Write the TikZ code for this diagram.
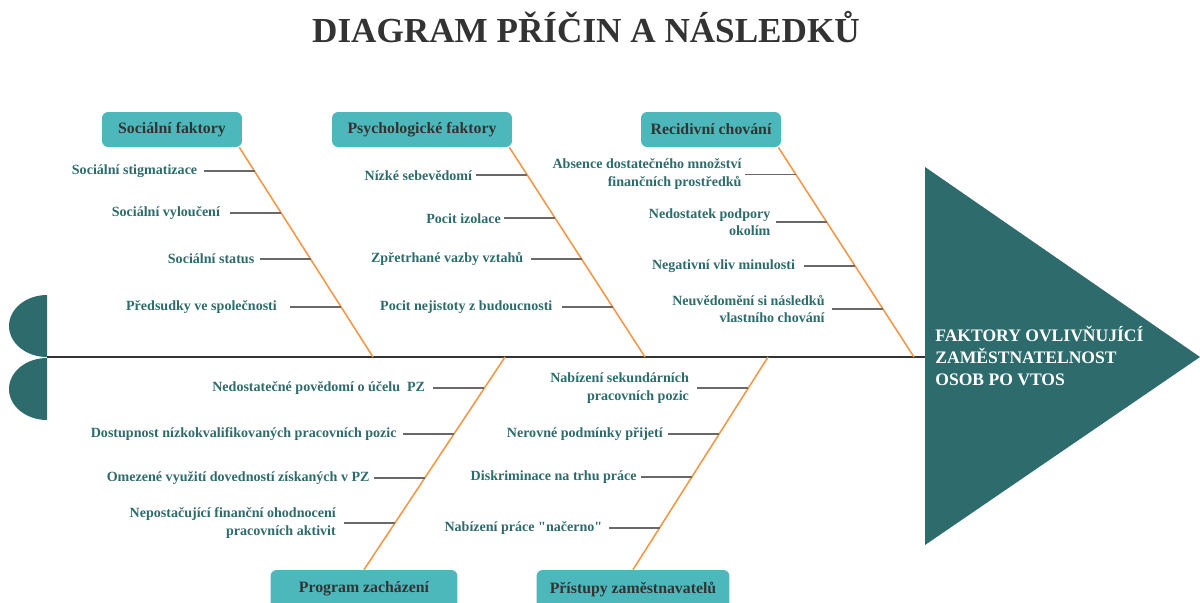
\documentclass[tikz,border=0pt]{standalone}
\usepackage{fontspec}
\setmainfont{Liberation Serif}
\usepackage{tikz}
\usetikzlibrary{calc, positioning}

\definecolor{headteal}{RGB}{46,107,108}
\definecolor{boxteal}{RGB}{77,184,188}
\definecolor{boneorange}{RGB}{243,152,72}
\definecolor{darkgray}{RGB}{51,51,51}
\definecolor{twiggray}{RGB}{105,105,105}

\begin{document}
\begin{tikzpicture}[x=0.02cm, y=-0.02cm,
    category/.style={fill=boxteal, rounded corners=3.5pt, minimum height=0.7cm, inner sep=0pt, text=darkgray, font=\fontsize{9}{11}\selectfont\bfseries},
    cause/.style={text=headteal, align=right, inner sep=0pt, font=\fontsize{8}{10.2}\selectfont\bfseries},
    bone/.style={draw=boneorange, line width=0.9pt},
    twig/.style={draw=twiggray, line width=1pt},
    spine/.style={draw=darkgray, line width=1.6pt}]
    \useasboundingbox (0,0) rectangle (1200,602);
    \clip (0,0) rectangle (1200,602);

    % Title
    \node[anchor=base, text=darkgray, font=\fontsize{20}{24}\selectfont\bfseries] (title) at (586,42) {DIAGRAM PŘÍČIN A NÁSLEDKŮ};

    % Tail and head
    \coordinate (tail) at (47,357);
    \coordinate (head) at (925,357);
    \fill[headteal] (47,295) arc[start angle=90, end angle=270, x radius=0.76cm, y radius=0.62cm] -- cycle;
    \fill[headteal] (47,358) arc[start angle=90, end angle=270, x radius=0.76cm, y radius=0.62cm] -- cycle;
    \fill[headteal] (925,167) -- (1200,357) -- (925,545) -- cycle;
    \node[anchor=west, text=white, align=left, inner sep=0pt, font=\fontsize{10}{12.6}\selectfont\bfseries] (effect) at (935,356) {FAKTORY OVLIVŇUJÍCÍ\\ZAMĚSTNATELNOST\\OSOB PO VTOS};

    % Spine
    \draw[spine] (tail) -- (head);
    \coordinate (j1) at (373,357);
    \coordinate (j2) at (645,357);
    \coordinate (j3) at (914,357);
    \coordinate (j4) at (505,357);
    \coordinate (j5) at (768,357);

    % Categories
    \node[category, minimum width=2.8cm] (sf) at (172,129.5) {Sociální faktory};
    \node[category, minimum width=3.6cm] (pf) at (422,129.5) {Psychologické faktory};
    \node[category, minimum width=2.8cm] (rc) at (711,129.5) {Recidivní chování};
    \node[category, minimum width=3.74cm, minimum height=0.76cm] (pz) at (364,589) {Program zacházení};
    \node[category, minimum width=3.86cm, minimum height=0.76cm] (pr) at (633,589) {Přístupy zaměstnavatelů};

    % Bones
    \draw[bone] ($(sf.south east)+(-3,0)$) coordinate (sfs) -- (j1);
    \draw[bone] ($(pf.south east)+(-3,0)$) coordinate (pfs) -- (j2);
    \draw[bone] ($(rc.south east)+(-3,0)$) coordinate (rcs) -- (j3);
    \draw[bone] (j4) -- (pz.north);
    \draw[bone] (j5) -- (pr.north);

    % Causes
    \foreach \p/\g/\txt [count=\i] in {.114/6/{Sociální stigmatizace}, .314/10/{Sociální vyloučení}, .533/5/{Sociální status}, .762/13/{Předsudky ve společnosti}} {
        \coordinate (sf\i) at ($(sfs)!\p!(j1)$);
        \draw[twig] (sf\i) -- ++(-51,0) coordinate (sft\i);
        \node[cause, anchor=east] (sfc\i) at ($(sft\i)+(-\g,0)$) {\txt};
    }
    \foreach \p/\g/\txt [count=\i] in {.133/4/{Nízké sebevědomí}, .338/3/{Pocit izolace}, .533/7/{Zpřetrhané vazby vztahů}, .762/9/{Pocit nejistoty z budoucnosti}} {
        \coordinate (pf\i) at ($(pfs)!\p!(j2)$);
        \draw[twig] (pf\i) -- ++(-51,0) coordinate (pft\i);
        \node[cause, anchor=east] (pfc\i) at ($(pft\i)+(-\g,0)$) {\txt};
    }
    \foreach \p/\g/\txt [count=\i] in {.129/3/{Absence dostatečného množství\\finančních prostředků}, .357/5/{Nedostatek podpory\\okolím}, .567/9/{Negativní vliv minulosti}, .771/7/{Neuvědomění si následků\\vlastního chování}} {
        \coordinate (rc\i) at ($(rcs)!\p!(j3)$);
        \draw[twig] (rc\i) -- ++(-51,0) coordinate (rct\i);
        \node[cause, anchor=east] (rcc\i) at ($(rct\i)+(-\g,0)$) {\txt};
    }
    \foreach \p/\g/\txt [count=\i] in {.146/8/{Nedostatečné povědomí o účelu \ PZ}, .362/6/{Dostupnost nízkokvalifikovaných pracovních pozic}, .568/4/{Omezené využití dovedností získaných v PZ}, .779/8/{Nepostačující finanční ohodnocení\\pracovních aktivit}} {
        \coordinate (pz\i) at ($(j4)!\p!(pz.north)$);
        \draw[twig] (pz\i) -- ++(-51,0) coordinate (pzt\i);
        \node[cause, anchor=east] (pzc\i) at ($(pzt\i)+(-\g,0)$) {\txt};
    }
    \foreach \p/\g/\txt [count=\i] in {.146/8/{Nabízení sekundárních\\pracovních pozic}, .362/5/{Nerovné podmínky přijetí}, .563/4/{Diskriminace na trhu práce}, .803/6/{Nabízení práce \textquotedbl načerno\textquotedbl}} {
        \coordinate (pr\i) at ($(j5)!\p!(pr.north)$);
        \draw[twig] (pr\i) -- ++(-51,0) coordinate (prt\i);
        \node[cause, anchor=east] (prc\i) at ($(prt\i)+(-\g,0)$) {\txt};
    }
\end{tikzpicture}
\end{document}
